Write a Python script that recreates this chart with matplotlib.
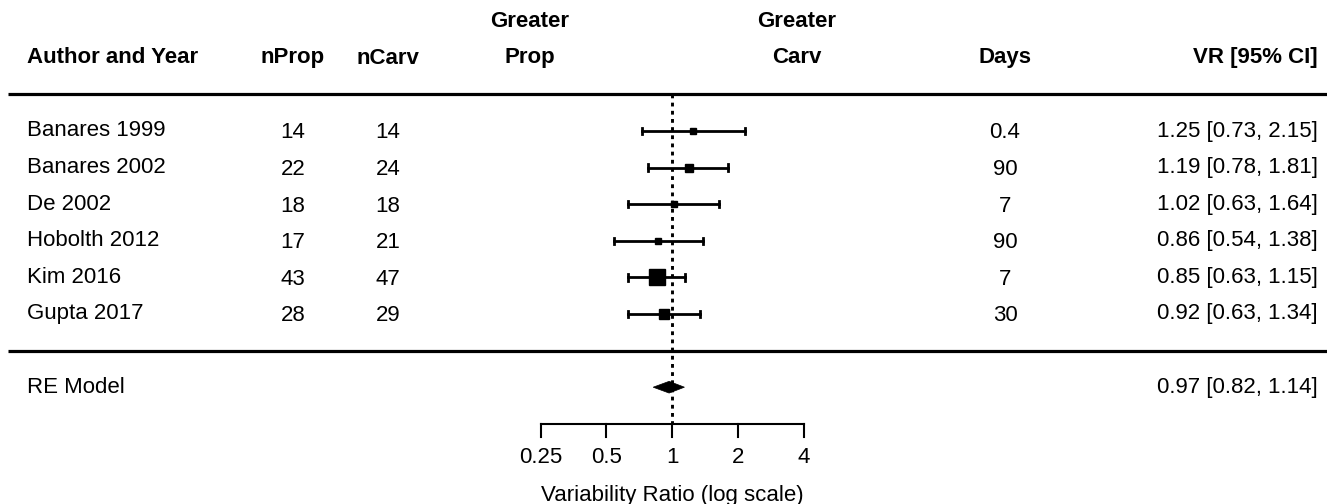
import numpy as np
import matplotlib
matplotlib.use("Agg")
import matplotlib.pyplot as plt
import matplotlib.transforms as mtransforms

plt.rcParams['font.family'] = ['Liberation Sans', 'DejaVu Sans']

# data
studies = ["Banares 1999", "Banares 2002", "De 2002", "Hobolth 2012", "Kim 2016", "Gupta 2017"]
n_prop = [14, 22, 18, 17, 43, 28]
n_carv = [14, 24, 18, 21, 47, 29]
days = ["0.4", "90", "7", "90", "7", "30"]
vr = [1.25, 1.19, 1.02, 0.86, 0.85, 0.92]
ci_lo = [0.73, 0.78, 0.63, 0.54, 0.63, 0.63]
ci_hi = [2.15, 1.81, 1.64, 1.38, 1.15, 1.34]
re_est, re_lo, re_hi = 0.97, 0.82, 1.14
xticks = [0.25, 0.5, 1, 2, 4]
xtick_labels = ["0.25", "0.5", "1", "2", "4"]

# box sizes (pt), roughly sqrt of study weight
box_sizes = [3.8, 6.0, 4.5, 4.5, 11.0, 7.4]

W, H = 1327, 504
fig = plt.figure(figsize=(W / 100, H / 100), dpi=100)
ax = fig.add_axes([0, 0, 1, 1])
ax.set_xscale('log', base=2)

# pixel layout: x=1 at 672px, 65.75 px per doubling; row 6 at y=131, 36.6 px per row
px_per_dbl = 65.75
ax.set_xlim(2 ** (-672 / px_per_dbl), 2 ** ((W - 672) / px_per_dbl))
row_px = 36.6
ax.set_ylim(6 - (H - 131) / row_px, 6 + 131 / row_px)
ax.axis('off')

k = len(studies)
rows = np.arange(k, 0, -1)
fs = 16
tr = mtransforms.blended_transform_factory(ax.transAxes, ax.transData)

# header / separator lines
for yy in (k + 1, 0):
    ax.plot([8 / W, 1], [yy, yy], transform=tr, color='black', lw=2.3, solid_capstyle='butt')

# reference line at 1
ax.plot([1, 1], [k + 1, -2], color='black', lw=2.1, linestyle=(0, (1.3, 1.5)))

# CIs and boxes
cap = 0.09
for r, e, lo, hi, s in zip(rows, vr, ci_lo, ci_hi, box_sizes):
    ax.plot([lo, hi], [r, r], color='black', lw=2.0)
    ax.plot([lo, lo], [r - cap, r + cap], color='black', lw=2.0)
    ax.plot([hi, hi], [r - cap, r + cap], color='black', lw=2.0)
    ax.plot([e], [r], marker='s', ms=s, color='black', mec='black')

# summary diamond
re_row = -1
dh = 0.16
ax.fill([re_lo, re_est, re_hi, re_est], [re_row, re_row + dh, re_row, re_row - dh],
        color='black', lw=0.5)

# x axis
ax.plot([xticks[0], xticks[-1]], [-2, -2], color='black', lw=1.5)
for t, lab in zip(xticks, xtick_labels):
    ax.plot([t, t], [-2, -2 - 13 / row_px], color='black', lw=1.5)
    ax.text(t, -2.93, lab, ha='center', va='center', fontsize=fs)
ax.text(1, -3.97, "Variability Ratio (log scale)", ha='center', va='center', fontsize=fs)

# columns
x_author = 27 / W
x_nprop = 293 / W
x_ncarv = 388 / W
x_days = 1005 / W
x_vr = 1318 / W

for r, name, a, b, d, e, lo, hi in zip(rows, studies, n_prop, n_carv, days, vr, ci_lo, ci_hi):
    ax.text(x_author, r, name, transform=tr, ha='left', va='center', fontsize=fs)
    ax.text(x_nprop, r - 0.05, str(a), transform=tr, ha='center', va='center', fontsize=fs)
    ax.text(x_ncarv, r - 0.05, str(b), transform=tr, ha='center', va='center', fontsize=fs)
    ax.text(x_days, r - 0.05, d, transform=tr, ha='center', va='center', fontsize=fs)
    ax.text(x_vr, r, f"{e:.2f} [{lo:.2f}, {hi:.2f}]", transform=tr, ha='right', va='center', fontsize=fs)

ax.text(x_author, re_row, "RE Model", transform=tr, ha='left', va='center', fontsize=fs)
ax.text(x_vr, re_row, f"{re_est:.2f} [{re_lo:.2f}, {re_hi:.2f}]", transform=tr,
        ha='right', va='center', fontsize=fs)

# headers
hy = k + 2
ax.text(x_author, hy, "Author and Year", transform=tr, ha='left', va='center', fontsize=fs, fontweight='bold')
ax.text(x_nprop, hy, "nProp", transform=tr, ha='center', va='center', fontsize=fs, fontweight='bold')
ax.text(x_ncarv, hy - 0.03, "nCarv", transform=tr, ha='center', va='center', fontsize=fs, fontweight='bold')
ax.text(x_days, hy, "Days", transform=tr, ha='center', va='center', fontsize=fs, fontweight='bold')
ax.text(x_vr, hy, "VR [95% CI]", transform=tr, ha='right', va='center', fontsize=fs, fontweight='bold')
ax.text(530 / W, hy + 1, "Greater", transform=tr, ha='center', va='center', fontsize=fs, fontweight='bold')
ax.text(530 / W, hy, "Prop", transform=tr, ha='center', va='center', fontsize=fs, fontweight='bold')
ax.text(797 / W, hy + 1, "Greater", transform=tr, ha='center', va='center', fontsize=fs, fontweight='bold')
ax.text(797 / W, hy, "Carv", transform=tr, ha='center', va='center', fontsize=fs, fontweight='bold')

fig.savefig("out.png", dpi=100)
